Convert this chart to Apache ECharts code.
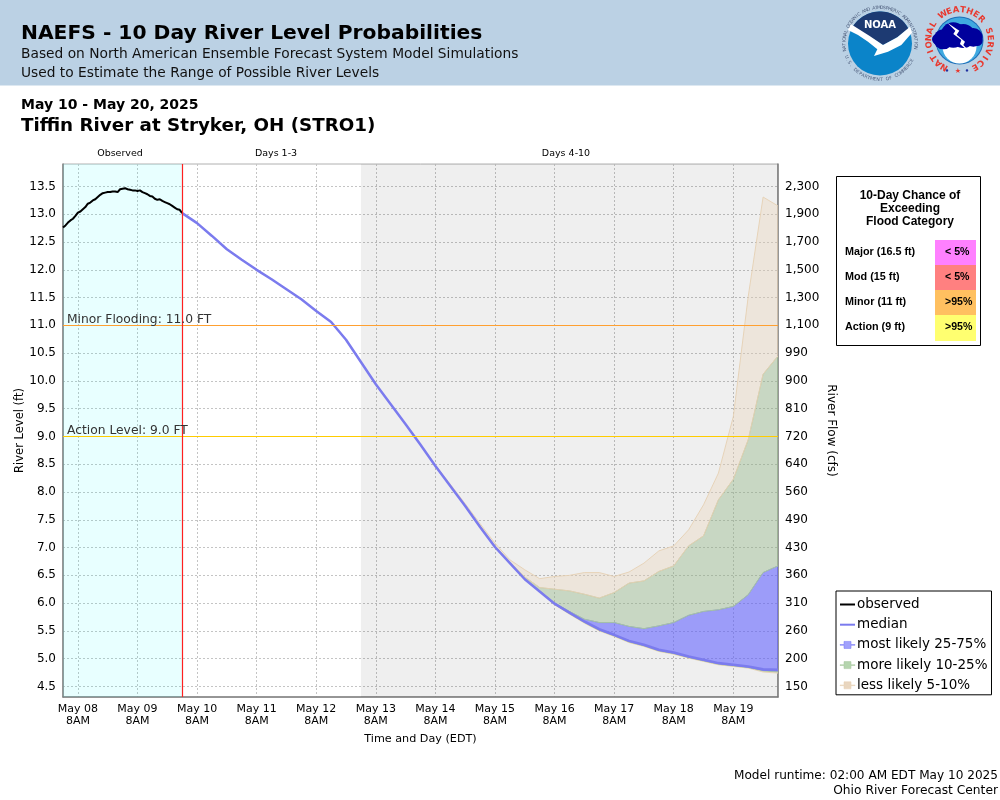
<!DOCTYPE html>
<html>
<head>
<meta charset="utf-8">
<style>html,body{margin:0;padding:0;background:#fff}#c{width:1000px;height:800px}</style>
<script src="https://cdn.jsdelivr.net/npm/echarts@6/dist/echarts.min.js"></script>
</head>
<body>
<div id="c"></div>
<script>
// ---- data ----
const xTickHours = [6,30,54,78,102,126,150,174,198,222,246,270];
const xTickLabels = ['May 08','May 09','May 10','May 11','May 12','May 13','May 14','May 15','May 16','May 17','May 18','May 19'];
const stageTicks = [4.5,5,5.5,6,6.5,7,7.5,8,8.5,9,9.5,10,10.5,11,11.5,12,12.5,13,13.5];
const flowTicks = ['150','200','260','310','360','430','490','560','640','720','810','900','990','1,100','1,300','1,500','1,700','1,900','2,300'];

const observedHours = [0,1,2,3,4,5,6,7,8,9,10,11,12,13,14,15,16,17,18,19,20,21,22,23,24,25,26,27,28,29,30,31,32,33,34,35,36,37,38,39,40,41,42,43,44,45,46,47,48];
const observedLevels = [12.76,12.80,12.85,12.89,12.92,12.97,13.03,13.05,13.09,13.13,13.19,13.21,13.25,13.27,13.31,13.35,13.38,13.39,13.40,13.40,13.41,13.41,13.40,13.45,13.46,13.47,13.45,13.44,13.43,13.43,13.42,13.43,13.40,13.38,13.36,13.33,13.32,13.28,13.26,13.27,13.24,13.22,13.20,13.18,13.15,13.12,13.09,13.08,13.02];

const forecastHours = [48,54,60,66,72,78,84,90,96,102,108,114,120,126,132,138,144,150,156,162,168,174,180,186,192,198,204,210,216,222,228,234,240,246,252,258,264,270,276,282,288];
const median = [13.02,12.84,12.61,12.37,12.18,12.00,11.83,11.65,11.47,11.26,11.06,10.74,10.34,9.94,9.58,9.22,8.85,8.47,8.11,7.75,7.37,7.01,6.72,6.43,6.21,5.99,5.83,5.67,5.53,5.43,5.32,5.25,5.16,5.11,5.04,4.98,4.92,4.89,4.86,4.81,4.80];
const p5  = [13.02,12.84,12.61,12.37,12.18,12.00,11.83,11.65,11.47,11.26,11.06,10.74,10.34,9.94,9.58,9.22,8.85,8.47,8.11,7.75,7.37,7.01,6.72,6.43,6.21,5.97,5.80,5.64,5.50,5.40,5.29,5.22,5.13,5.08,5.01,4.95,4.89,4.86,4.83,4.76,4.74];
const p10 = [13.02,12.84,12.61,12.37,12.18,12.00,11.83,11.65,11.47,11.26,11.06,10.74,10.34,9.94,9.58,9.22,8.85,8.47,8.11,7.75,7.37,7.01,6.72,6.43,6.21,5.98,5.81,5.65,5.51,5.41,5.30,5.23,5.14,5.09,5.02,4.96,4.90,4.87,4.84,4.78,4.76];
const p25 = [13.02,12.84,12.61,12.37,12.18,12.00,11.83,11.65,11.47,11.26,11.06,10.74,10.34,9.94,9.58,9.22,8.85,8.47,8.11,7.75,7.37,7.01,6.72,6.43,6.21,5.98,5.82,5.66,5.52,5.42,5.31,5.24,5.15,5.10,5.03,4.97,4.91,4.88,4.85,4.79,4.78];
const p75 = [13.02,12.84,12.61,12.37,12.18,12.00,11.83,11.65,11.47,11.26,11.06,10.74,10.34,9.94,9.58,9.22,8.85,8.47,8.11,7.75,7.37,7.01,6.72,6.43,6.22,6.00,5.85,5.71,5.65,5.65,5.58,5.54,5.59,5.65,5.78,5.85,5.88,5.94,6.15,6.55,6.67];
const p90 = [13.02,12.84,12.61,12.37,12.18,12.00,11.83,11.65,11.47,11.26,11.06,10.74,10.34,9.94,9.58,9.22,8.85,8.48,8.12,7.76,7.39,7.03,6.74,6.47,6.28,6.25,6.22,6.16,6.09,6.19,6.36,6.40,6.57,6.67,7.03,7.21,7.86,8.23,8.94,10.12,10.45];
const p95 = [13.02,12.84,12.61,12.37,12.18,12.00,11.83,11.65,11.47,11.26,11.06,10.74,10.34,9.94,9.58,9.22,8.85,8.49,8.14,7.79,7.43,7.08,6.78,6.60,6.44,6.48,6.50,6.55,6.55,6.48,6.56,6.72,6.94,7.03,7.32,7.77,8.34,9.36,11.52,13.31,13.15];

const tableLabels = ['Major (16.5 ft)','Mod (15 ft)','Minor (11 ft)','Action (9 ft)'];
const tableChances = ['< 5%','< 5%','>95%','>95%'];
const tableColors = ['#ff80ff','#ff8080','#ffc060','#ffff70'];

// ---- helpers ----
const DJ = '"DejaVu Sans"';
const LB = '"Liberation Sans"';
function text(x,y,s,font,fill,align,extra){
  return Object.assign({type:'text',x:x,y:y,silent:true,z:50,style:{text:s,font:font,fill:fill||'#000',textAlign:align||'left',textVerticalAlign:'middle'}},extra||{});
}
function ring(str,cx,cy,r,a0,a1,font,fill,bottom){
  const out=[];
  const n=str.length;
  for(let i=0;i<n;i++){
    const a=(a0+(a1-a0)*i/(n-1))*Math.PI/180;
    const rot=bottom?-(a-Math.PI):-a;
    out.push(text(cx+r*Math.sin(a),cy-r*Math.cos(a),str[i],font,fill,'center',{rotation:rot}));
  }
  return out;
}
function circle(cx,cy,r,fill){return {type:'circle',silent:true,z:40,shape:{cx:cx,cy:cy,r:r},style:{fill:fill}};}
function poly(pts,fill,oz){return {type:'polygon',silent:true,z:oz||41,shape:{points:pts},style:{fill:fill}};}
function arcPts(cx,cy,r,a0,a1,n){const p=[];for(let i=0;i<=n;i++){const a=(a0+(a1-a0)*i/n)*Math.PI/180;p.push([cx+r*Math.sin(a),cy-r*Math.cos(a)]);}return p;}

function noaaLogo(){
  const cx=880,cy=43.5,R=32;
  const Z=(x,y)=>[838+x/3,y/3];
  const navy=arcPts(cx,cy,R,-66,62,30).concat([Z(178,112),Z(135,135),Z(95,110)]);
  const bird=[Z(30,90),Z(38,72),Z(95,108),Z(135,135),Z(178,112),Z(216,80),Z(222,98),Z(190,135),Z(150,155),Z(108,168),Z(118,148),Z(90,125),Z(60,105)];
  return [circle(cx,cy,R,'#0b84c9'),poly(navy,'#1d3a72'),poly(bird,'#ffffff',42),
    text(880,25.5,'NOAA','bold 10px '+DJ,'#ffffff','center')]
    .concat(ring('NATIONAL OCEANIC AND ATMOSPHERIC ADMINISTRATION',cx,cy,35.8,-100,97,'4.6px '+DJ,'#4d5d7c'))
    .concat(ring('U.S. DEPARTMENT OF COMMERCE',cx,cy,36.2,248,118,'4.6px '+DJ,'#4d5d7c',true));
}
function nwsLogo(){
  const cx=959.5,cy=40.5;
  const Z=(x,y)=>[920+x/3,y/3];
  const out=[circle(cx,cy,24,'#1f6fb8'),circle(cx,cy,23,'#3fa9e0'),circle(cx,cy+6,17,'#ffffff')];
  [[70,118,30],[100,105,38],[130,108,36],[160,112,28],[172,122,16],[52,118,16]].forEach(c=>{
    const p=Z(c[0],c[1]);out.push(Object.assign(circle(p[0],p[1],c[2]/3,'#00009c'),{z:41}));
  });
  out.push(poly([Z(82,68),Z(118,92),Z(110,104),Z(135,125),Z(130,135),Z(165,172),Z(120,132),Z(124,120),Z(100,102),Z(106,92)],'#ffffff',42));
  out.push(text(947,70.7,'•','bold 7px '+DJ,'#2030a0','center'));
  out.push(text(958,71,'★','bold 7px '+DJ,'#e8392f','center'));
  out.push(text(967,70.7,'•','bold 7px '+DJ,'#2030a0','center'));
  return out.concat(ring('NATIONAL WEATHER SERVICE',cx,cy,30.5,-150,150,'bold 8.5px '+DJ,'#e8392f'));
}
function table(){
  const out=[{type:'rect',silent:true,z:40,shape:{x:836.5,y:176.5,width:144,height:169},style:{fill:'#fff',stroke:'#000',lineWidth:1}}];
  ['10-Day Chance of','Exceeding','Flood Category'].forEach((s,i)=>out.push(text(910,196+i*13,s,'bold 12px '+LB,'#000','center')));
  const tops=[240,265,290,315,341];
  tableLabels.forEach((s,i)=>{
    out.push({type:'rect',silent:true,z:41,shape:{x:935,y:tops[i],width:41,height:tops[i+1]-tops[i]},style:{fill:tableColors[i]}});
    const my=(tops[i]+tops[i+1])/2-0.5;
    out.push(text(845,my,s,'bold 10.8px '+LB,'#000','left'));
    out.push(text(945,my,tableChances[i],'bold 10.6px '+LB,'#000','left'));
  });
  return out;
}

// ---- series builders ----
const xy = (hours,vals)=>hours.map((h,i)=>[h,vals[i]]);
const BLUE={fill:'rgba(100,100,255,0.6)',line:'rgba(120,120,245,0.9)',key:'rgba(110,110,250,0.65)'};
const GREEN={fill:'rgba(152,186,141,0.45)',line:'rgba(170,200,160,0.9)',key:'rgba(150,195,140,0.7)'};
const TAN={fill:'rgba(236,216,191,0.4)',line:'rgba(230,208,180,0.9)',key:'rgba(228,204,175,0.8)'};
// a band is one closed polygon between a lower and an upper percentile, placed with the axis scales
function band(name,low,high,c){
  return {type:'custom',name:name,silent:true,z:2,clip:true,
    data:forecastHours.map((h,i)=>[h,low[i],high[i]]),
    encode:{x:0,y:[1,2]},
    itemStyle:{color:c.fill},
    renderItem:function(params,api){
      if(params.dataIndex!==0) return null;
      const top=forecastHours.map((h,i)=>api.coord([h,high[i]]));
      const bot=forecastHours.map((h,i)=>api.coord([h,low[i]])).reverse();
      return {type:'polygon',shape:{points:top.concat(bot)},style:{fill:c.fill,stroke:c.line,lineWidth:1}};
    }
  };
}
const ICON='path://M0 4.2H4V1H11V4.2H15V4.8H11V8H4V4.8H0Z';
const labelStyle={color:'#333',fontFamily:DJ,fontSize:12.3,position:'insideStartTop',distance:[4,0]};
const gridStyle={color:'#c4c4c4',type:[2,2],width:1};

const chart=echarts.init(document.getElementById('c'),null,{renderer:'canvas',width:1000,height:800});
chart.setOption({
  animation:false,
  backgroundColor:'#fff',
  textStyle:{fontFamily:DJ},
  grid:{left:63,right:222,top:164,bottom:103,show:true,backgroundColor:'#fff',borderColor:'#b0b0b0',borderWidth:1,containLabel:false,outerBoundsMode:'none'},
  legend:{
    left:836,top:591,orient:'vertical',padding:[6,4,2,3],itemGap:5.2,itemWidth:15,itemHeight:9,
    backgroundColor:'#fff',borderColor:'#000',borderWidth:1,
    textStyle:{fontFamily:DJ,fontSize:13.5,color:'#000',padding:[0,0,0,-3],height:15,lineHeight:15},
    data:[
      {name:'observed',itemStyle:{color:'transparent',borderWidth:0,opacity:0}},
      {name:'median',itemStyle:{color:'transparent',borderWidth:0,opacity:0}},
      {name:'most likely 25-75%',icon:ICON,itemStyle:{color:BLUE.key,borderColor:BLUE.line,borderWidth:0.6}},
      {name:'more likely 10-25%',icon:ICON,itemStyle:{color:GREEN.key,borderColor:GREEN.line,borderWidth:0.6}},
      {name:'less likely 5-10%',icon:ICON,itemStyle:{color:TAN.key,borderColor:TAN.line,borderWidth:0.6}}],
    selectedMode:false
  },
  xAxis:{
    type:'value',min:0,max:288,
    name:'Time and Day (EDT)',nameLocation:'middle',nameGap:37,nameMoveOverlap:false,nameTextStyle:{fontFamily:DJ,fontSize:11.2,color:'#000'},
    axisLine:{onZero:false,lineStyle:{color:'#808080',width:1.5}},
    axisTick:{show:false,customValues:xTickHours},
    axisLabel:{customValues:xTickHours,margin:6,fontFamily:DJ,fontSize:11,color:'#000',lineHeight:12,
      formatter:v=>xTickLabels[xTickHours.indexOf(v)]+'\n8AM'},
    splitLine:{show:true,lineStyle:gridStyle}
  },
  yAxis:[{
    type:'value',min:4.31,max:13.905,position:'left',
    name:'River Level (ft)',nameLocation:'middle',nameGap:37,nameMoveOverlap:false,nameTextStyle:{fontFamily:DJ,fontSize:11.5,color:'#000'},
    axisLine:{show:true,onZero:false,lineStyle:{color:'#808080',width:1.5}},
    axisTick:{show:false,customValues:stageTicks},
    axisLabel:{customValues:stageTicks,margin:7,fontFamily:DJ,fontSize:12,color:'#000',formatter:v=>v.toFixed(1)},
    splitLine:{show:true,lineStyle:gridStyle}
  },{
    type:'value',min:4.31,max:13.905,position:'right',
    name:'River Flow (cfs)',nameLocation:'middle',nameGap:47,nameMoveOverlap:false,nameRotate:-90,nameTextStyle:{fontFamily:DJ,fontSize:12,color:'#000'},
    axisLine:{show:true,onZero:false,lineStyle:{color:'#808080',width:1.5}},
    axisTick:{show:false,customValues:stageTicks},
    axisLabel:{customValues:stageTicks,margin:7,fontFamily:DJ,fontSize:12,color:'#000',
      formatter:v=>flowTicks[stageTicks.indexOf(v)]},
    splitLine:{show:false}
  }],
  series:[
    band('less likely 5-10%',p5,p10,TAN),
    band('more likely 10-25%',p10,p25,GREEN),
    band('most likely 25-75%',p25,p75,BLUE),
    band('more likely 10-25%',p75,p90,GREEN),
    band('less likely 5-10%',p90,p95,TAN),
    {type:'line',name:'median',data:xy(forecastHours,median),showSymbol:false,symbol:'none',silent:true,z:3,
      lineStyle:{color:'#7b7bee',width:2.5},itemStyle:{color:'#7b7bee'},
      markArea:{silent:true,z:1,data:[
        [{xAxis:0,itemStyle:{color:'rgba(0,255,255,0.09)'}},{xAxis:48}],
        [{xAxis:120,itemStyle:{color:'rgba(0,0,0,0.064)'}},{xAxis:288}]
      ]},
      markLine:{silent:true,symbol:'none',animation:false,data:[
        {yAxis:11,lineStyle:{color:'#ffa030',width:1,type:'solid'},label:Object.assign({formatter:'Minor Flooding: 11.0 FT'},labelStyle)},
        {yAxis:9,lineStyle:{color:'#ffcc00',width:1,type:'solid'},label:Object.assign({formatter:'Action Level: 9.0 FT'},labelStyle)},
        {xAxis:48,lineStyle:{color:'#ff2020',width:1.2,type:'solid'},label:{show:false}}
      ]}
    },
    {type:'line',name:'observed',data:xy(observedHours,observedLevels),showSymbol:false,symbol:'none',silent:true,z:4,
      lineStyle:{color:'#000',width:2},itemStyle:{color:'#000'}}
  ],
  graphic:{elements:[
    {type:'rect',silent:true,z:30,shape:{x:0,y:0,width:1000,height:85.5},style:{fill:'#bbd1e4'}},
    text(21,34,'NAEFS - 10 Day River Level Probabilities','bold 20.25px '+DJ,'#000'),
    text(21,54.5,'Based on North American Ensemble Forecast System Model Simulations','13.77px '+DJ,'#111'),
    text(21,73.5,'Used to Estimate the Range of Possible River Levels','13.77px '+DJ,'#111'),
    text(21,105.5,'May 10 - May 20, 2025','bold 14px '+DJ,'#000'),
    text(21,126.5,'Tiffin River at Stryker, OH (STRO1)','bold 18.3px '+DJ,'#000'),
    text(120,154,'Observed','9.5px '+DJ,'#000','center'),
    text(276,154,'Days 1-3','9.5px '+DJ,'#000','center'),
    text(566,154,'Days 4-10','9.5px '+DJ,'#000','center'),
    text(998,775.5,'Model runtime: 02:00 AM EDT May 10 2025','12.1px '+DJ,'#000','right'),
    text(998,791,'Ohio River Forecast Center','12.25px '+DJ,'#000','right')
  ].concat(noaaLogo(),nwsLogo(),table())}
});
</script>
</body>
</html>
